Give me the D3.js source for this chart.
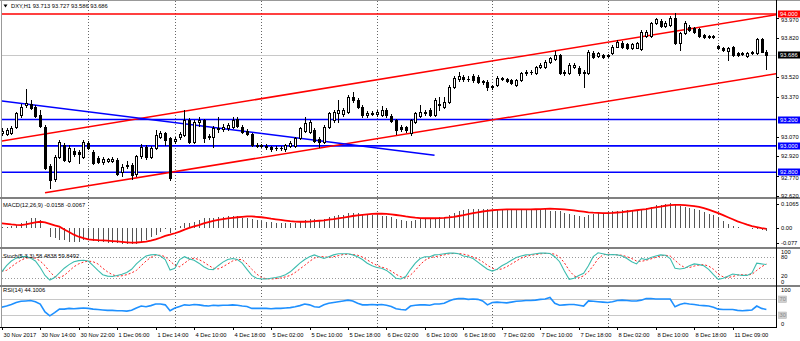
<!DOCTYPE html>
<html><head><meta charset="utf-8">
<script src="https://cdn.jsdelivr.net/npm/d3@7"></script>
<style>body{margin:0;background:#fff;overflow:hidden}svg{display:block;font-family:"Liberation Sans",Arial,sans-serif}</style>
</head><body><svg id="c" width="800" height="341"></svg>
<script>
// ---------- DATA ----------
const open = [93.098,93.090,93.098,93.143,93.234,93.310,93.318,93.295,93.234,93.143,
92.848,92.749,92.916,93.007,92.886,92.961,92.954,92.916,93.022,92.954,
92.908,92.878,92.886,92.886,92.893,92.802,92.855,92.855,92.787,92.923,
92.992,92.916,92.984,93.068,93.098,93.060,93.037,93.068,93.083,93.196,
93.030,93.181,93.196,93.075,93.068,93.128,93.128,93.136,93.143,93.204,
93.143,93.113,93.090,93.007,93.007,92.999,92.992,92.984,92.981,92.977,
92.999,92.999,93.060,93.113,93.105,93.121,93.052,93.030,93.143,93.196,
93.250,93.242,93.257,93.371,93.348,93.295,93.234,93.250,93.242,93.234,
93.272,93.227,93.196,93.143,93.143,93.098,93.181,93.227,93.250,93.272,
93.234,93.310,93.295,93.333,93.447,93.507,93.523,93.507,93.530,93.523,
93.490,93.485,93.454,93.462,93.511,93.507,93.500,93.462,93.500,93.553,
93.560,93.553,93.598,93.598,93.636,93.659,93.689,93.560,93.553,93.598,
93.591,93.560,93.553,93.705,93.682,93.689,93.682,93.705,93.750,93.780,
93.773,93.742,93.742,93.735,93.833,93.833,93.932,93.947,93.909,93.917,
93.970,93.780,93.856,93.902,93.894,93.887,93.841,93.833,93.833,93.758,
93.742,93.720,93.750,93.705,93.701,93.682,93.705,93.705,93.811,93.713];
const high = [93.136,93.136,93.151,93.257,93.318,93.432,93.348,93.310,93.272,93.159,
92.863,92.931,93.045,93.022,93.007,92.984,92.969,93.045,93.037,92.969,
92.923,92.916,92.908,92.916,92.908,92.863,92.886,92.870,92.931,93.014,
93.007,92.999,93.121,93.113,93.105,93.068,93.068,93.105,93.272,93.212,
93.196,93.219,93.204,93.090,93.151,93.219,93.166,93.174,93.219,93.219,
93.159,93.128,93.098,93.022,93.014,93.014,92.999,92.999,92.999,93.014,
93.037,93.068,93.143,93.219,93.196,93.136,93.068,93.159,93.257,93.272,
93.348,93.287,93.386,93.409,93.363,93.310,93.265,93.265,93.272,93.303,
93.287,93.242,93.204,93.159,93.151,93.204,93.257,93.310,93.272,93.287,
93.363,93.371,93.371,93.462,93.530,93.560,93.538,93.530,93.545,93.538,
93.500,93.500,93.462,93.530,93.523,93.515,93.507,93.507,93.560,93.576,
93.576,93.606,93.629,93.651,93.674,93.720,93.697,93.576,93.629,93.629,
93.606,93.576,93.727,93.720,93.712,93.697,93.697,93.765,93.803,93.796,
93.780,93.780,93.788,93.879,93.879,93.940,93.970,93.962,93.947,93.985,
94.008,93.864,93.947,93.917,93.902,93.894,93.849,93.841,93.841,93.765,
93.750,93.750,93.758,93.712,93.712,93.712,93.720,93.818,93.818,93.727];
const low = [93.083,93.083,93.090,93.136,93.219,93.295,93.280,93.219,93.143,92.825,
92.681,92.734,92.908,92.886,92.878,92.923,92.870,92.908,92.977,92.863,
92.870,92.863,92.878,92.878,92.779,92.772,92.832,92.749,92.772,92.908,
92.901,92.908,92.977,93.060,93.007,92.741,93.022,93.052,93.075,93.022,
93.022,93.151,93.030,93.052,92.992,93.105,93.113,93.121,93.136,93.143,
93.098,93.083,92.999,92.992,92.992,92.977,92.961,92.969,92.969,92.961,
92.992,92.992,93.052,93.105,93.098,93.030,92.992,93.022,93.136,93.181,
93.181,93.227,93.250,93.333,93.287,93.219,93.219,93.234,93.227,93.227,
93.219,93.181,93.090,93.113,93.105,93.083,93.174,93.219,93.234,93.227,
93.227,93.272,93.287,93.325,93.439,93.492,93.492,93.492,93.485,93.477,
93.469,93.424,93.432,93.454,93.500,93.485,93.469,93.454,93.492,93.538,
93.545,93.545,93.591,93.591,93.629,93.651,93.545,93.538,93.545,93.591,
93.538,93.447,93.545,93.667,93.674,93.667,93.674,93.697,93.750,93.742,
93.735,93.735,93.742,93.727,93.826,93.826,93.925,93.902,93.902,93.909,
93.773,93.727,93.849,93.871,93.856,93.826,93.818,93.818,93.818,93.735,
93.720,93.651,93.682,93.682,93.689,93.674,93.697,93.697,93.712,93.586];
const close = [93.113,93.121,93.136,93.250,93.295,93.325,93.287,93.227,93.151,92.832,
92.741,92.916,93.030,92.893,92.984,92.939,92.939,93.030,92.984,92.870,
92.878,92.901,92.901,92.901,92.787,92.840,92.851,92.779,92.923,92.992,
92.916,92.984,93.083,93.098,93.045,92.757,93.052,93.090,93.196,93.030,
93.181,93.196,93.060,93.068,93.136,93.136,93.143,93.159,93.196,93.151,
93.105,93.090,93.007,93.003,92.999,92.992,92.977,92.981,92.984,93.007,
93.022,93.060,93.136,93.174,93.181,93.037,93.030,93.143,93.250,93.257,
93.272,93.272,93.371,93.348,93.295,93.234,93.250,93.242,93.257,93.272,
93.234,93.189,93.121,93.128,93.121,93.196,93.250,93.257,93.257,93.234,
93.348,93.318,93.333,93.447,93.515,93.530,93.507,93.504,93.500,93.485,
93.485,93.447,93.447,93.515,93.515,93.492,93.477,93.500,93.553,93.560,
93.564,93.598,93.614,93.636,93.667,93.689,93.553,93.553,93.614,93.614,
93.553,93.553,93.712,93.674,93.705,93.674,93.689,93.750,93.788,93.750,
93.742,93.773,93.780,93.864,93.864,93.932,93.962,93.909,93.932,93.970,
93.780,93.856,93.932,93.879,93.864,93.833,93.826,93.826,93.826,93.742,
93.727,93.742,93.689,93.689,93.697,93.705,93.712,93.811,93.712,93.686];

const macdMain = [0.002,0.003,0.005,0.012,0.02,0.033,0.045,0.045,0.036,0.0,
-0.045,-0.05,-0.061,-0.063,-0.069,-0.069,-0.069,-0.063,-0.06,-0.064,
-0.069,-0.072,-0.074,-0.074,-0.074,-0.078,-0.078,-0.08,-0.078,-0.069,
-0.06,-0.045,-0.035,-0.02,-0.008,-0.026,-0.008,0.008,0.02,0.023,
0.028,0.038,0.045,0.048,0.048,0.052,0.052,0.056,0.056,0.056,
0.048,0.045,0.04,0.035,0.03,0.028,0.025,0.022,0.02,0.02,
0.02,0.022,0.028,0.035,0.04,0.04,0.038,0.042,0.05,0.055,
0.06,0.063,0.07,0.072,0.072,0.068,0.065,0.062,0.06,0.058,
0.055,0.05,0.042,0.035,0.03,0.032,0.036,0.04,0.042,0.042,
0.048,0.05,0.053,0.062,0.072,0.08,0.085,0.088,0.09,0.09,
0.09,0.088,0.085,0.086,0.087,0.087,0.086,0.085,0.086,0.087,
0.087,0.088,0.088,0.089,0.08,0.082,0.078,0.072,0.066,0.062,
0.058,0.05,0.06,0.066,0.07,0.072,0.074,0.078,0.082,0.084,
0.085,0.086,0.087,0.092,0.096,0.1,0.108,0.112,0.115,0.118,
0.11,0.104,0.1,0.095,0.09,0.083,0.076,0.068,0.06,0.05,
0.03,0.015,0.008,0.004,0.0,-0.003,-0.006,-0.008,-0.012,-0.0158];
const macdSignal = [0.02,0.018,0.015,0.013,0.012,0.015,0.02,0.025,0.028,0.025,
0.018,0.01,0.004,-0.01,-0.022,-0.035,-0.045,-0.052,-0.058,-0.06,
-0.062,-0.063,-0.064,-0.066,-0.068,-0.07,-0.072,-0.074,-0.073,-0.071,
-0.069,-0.064,-0.058,-0.05,-0.041,-0.035,-0.028,-0.02,-0.01,-0.002,
0.005,0.012,0.02,0.026,0.032,0.037,0.041,0.044,0.047,0.05,
0.052,0.054,0.054,0.052,0.05,0.047,0.043,0.04,0.037,0.034,
0.031,0.029,0.028,0.028,0.029,0.031,0.033,0.035,0.038,0.041,
0.045,0.048,0.052,0.056,0.059,0.062,0.064,0.066,0.067,0.067,
0.066,0.064,0.061,0.058,0.054,0.051,0.048,0.046,0.045,0.045,
0.045,0.046,0.047,0.049,0.052,0.056,0.06,0.065,0.07,0.074,
0.078,0.081,0.084,0.086,0.087,0.088,0.088,0.088,0.088,0.088,
0.088,0.089,0.09,0.091,0.092,0.091,0.09,0.088,0.086,0.083,
0.08,0.077,0.074,0.072,0.071,0.07,0.07,0.071,0.073,0.075,
0.078,0.081,0.084,0.087,0.09,0.094,0.098,0.102,0.106,0.109,
0.11,0.11,0.109,0.107,0.104,0.1,0.094,0.087,0.079,0.07,
0.06,0.05,0.04,0.03,0.022,0.014,0.007,0.002,-0.003,-0.0067];
const stochK = [38,55,68,76,80,81,76,68,50,28,
15,22,35,48,58,66,69,70,68,55,
42,30,26,25,28,31,36,45,60,72,
82,85,86,82,72,43,48,72,80,74,
70,62,52,45,44,55,65,72,75,72,
62,45,28,20,18,18,20,22,25,30,
38,50,62,72,80,85,80,75,80,85,
88,88,88,85,80,72,62,55,50,48,
42,32,20,18,25,45,62,75,80,80,
85,86,88,90,90,88,82,80,75,65,
55,45,40,45,55,62,70,78,82,85,
86,88,90,90,89,80,66,40,17,20,
28,34,55,80,91,88,85,86,85,82,
75,66,60,75,72,78,82,85,84,75,
48,46,48,55,60,58,55,45,30,17,
20,26,32,30,28,28,35,62,60,58.48];
const stochD = [40,42,52,62,70,76,78,76,68,55,
38,25,22,28,40,52,60,65,68,66,
60,48,38,30,26,27,30,35,42,55,
68,78,84,84,80,68,56,52,62,72,
76,72,65,56,48,46,52,60,68,72,
72,60,45,32,22,19,18,19,21,24,
28,36,46,56,67,76,80,80,78,80,
83,86,87,86,84,79,71,63,56,51,
47,40,31,24,21,29,42,58,70,77,
80,82,85,88,89,89,87,84,79,74,
66,56,48,44,46,52,60,68,76,81,
84,86,88,89,89,87,79,63,42,27,
21,27,38,55,74,85,87,86,85,84,
80,75,68,67,70,74,78,82,84,82,
70,58,50,50,54,57,58,54,45,32,
24,22,25,29,30,29,31,42,52,59.85];
const rsi = [50,53,57,62,65,66,67,64,58,38,
28,36,45,45,47,46,47,48,47,45,
44,43,42,42,41,41,40,42,48,53,
51,54,58,58,56,41,48,52,56,55,
57,56,54,53,55,54,55,55,56,55,
53,52,47,47,47,47,46,47,47,48,
49,51,54,58,56,51,50,56,60,62,
64,66,68,66,60,56,56,57,56,57,
55,52,46,44,43,53,55,56,56,55,
58,58,60,66,70,72,72,70,71,70,
66,56,62,63,62,61,63,65,66,67,
67,68,70,71,75,60,55,56,57,57,
55,53,66,65,64,63,62,64,67,68,
67,66,66,68,72,72,71,71,71,71,
51,57,60,58,57,55,54,53,50,45,
44,44,44,42,41,42,43,53,47,44.1];

const timeLabels = ["30 Nov 2017","30 Nov 14:00","30 Nov 22:00","1 Dec 06:00","1 Dec 14:00","4 Dec 10:00","4 Dec 18:00","5 Dec 02:00","5 Dec 10:00","5 Dec 18:00","6 Dec 02:00","6 Dec 10:00","6 Dec 18:00","7 Dec 02:00","7 Dec 10:00","7 Dec 18:00","8 Dec 02:00","8 Dec 10:00","8 Dec 18:00","11 Dec 09:00"];
const timeLabelBars = [0,8,16,24,32,40,48,56,64,72,80,88,96,104,112,120,128,136,144,152];
const gridBars = [18,36,54,78,102,126,149];
const priceTicks = [93.970,93.820,93.520,93.370,93.070,92.920,92.770,92.620];
const hLevelsBlue = [93.200,93.000,92.800];
const hLevelsRed = [94.000];
const bidPrice = 93.686;
const upperChannel = [[0,93.037],[161.2,93.996]];
const lowerChannel = [[9,92.645],[161.2,93.548]];
const blueTrend = [[0,93.341],[90,92.929]];
const macdTicks = [0.1065,0.00,-0.077];
const stochTicks = [100,80,20,0];
const stochLevels = [80,20];
const rsiLevels = [70,30];

// ---------- LAYOUT ----------
const svg = d3.select('#c');
const PR = 776;
const P = {main:[1,197], macd:[199,247], stoch:[249,285], rsi:[287,327]};
const x = d3.scaleLinear().domain([0,159]).range([1.74, 1.74+4.809*159]);
const yM = d3.scaleLinear().domain([92.620,93.970]).range([196,18]);
const yMacd = d3.scaleLinear().domain([-0.077,0]).range([243.3,227.5]);
const yS = d3.scaleLinear().domain([0,100]).range([285.5,249.5]);
const yR = d3.scaleLinear().domain([0,100]).range([326.8,287.6]);
const FS = 5.75;
const px = i => Math.round(x(i)) + 0.5;

const defs = svg.append('defs');
Object.entries(P).forEach(([k,[t,b]]) => {
  defs.append('clipPath').attr('id','clip-'+k).append('rect').attr('x',2).attr('y',t).attr('width',PR-2).attr('height',b-t);
});

Object.entries(P).forEach(([k,[t,b]]) => {
  svg.append('g').selectAll('line').data(gridBars).join('line')
    .attr('x1',d=>px(d)).attr('x2',d=>px(d)).attr('y1',t).attr('y2',b)
    .attr('stroke','#666').attr('stroke-width',1).attr('stroke-dasharray','1,2');
});

// ---------- MAIN ----------
const gm = svg.append('g').attr('clip-path','url(#clip-main)');
gm.append('line').attr('x1',2).attr('x2',PR).attr('y1',Math.round(yM(bidPrice))+0.5).attr('y2',Math.round(yM(bidPrice))+0.5).attr('stroke','#c8c8c8');
gm.selectAll('.hb').data(hLevelsBlue).join('line').attr('x1',2).attr('x2',PR)
  .attr('y1',d=>yM(d)).attr('y2',d=>yM(d)).attr('stroke','#0000ff').attr('stroke-width',1.6);
gm.selectAll('.hr').data(hLevelsRed).join('line').attr('x1',2).attr('x2',PR)
  .attr('y1',d=>yM(d)).attr('y2',d=>yM(d)).attr('stroke','#ff0000').attr('stroke-width',1.6);
const seg = (pts,col) => gm.append('line').attr('x1',x(pts[0][0])).attr('y1',yM(pts[0][1]))
  .attr('x2',x(pts[1][0])).attr('y2',yM(pts[1][1])).attr('stroke',col).attr('stroke-width',1.5);
seg(upperChannel,'#ff0000'); seg(lowerChannel,'#ff0000'); seg(blueTrend,'#0000ff');

const idx = d3.range(open.length);
const cg = gm.append('g').attr('shape-rendering','crispEdges');
idx.forEach(i => {
  const cx = px(i);
  cg.append('line').attr('x1',cx).attr('x2',cx).attr('y1',Math.round(yM(high[i]))).attr('y2',Math.round(yM(low[i]))+1).attr('stroke','#000');
  const top = Math.round(yM(Math.max(open[i],close[i]))), bot = Math.round(yM(Math.min(open[i],close[i])));
  const bull = close[i] >= open[i];
  if (bot - top < 1) {
    cg.append('line').attr('x1',cx-1.5).attr('x2',cx+1.5).attr('y1',top+0.5).attr('y2',top+0.5).attr('stroke','#000');
  } else {
    cg.append('rect').attr('x',cx-1).attr('y',top+0.5).attr('width',2).attr('height',bot-top)
      .attr('fill',bull?'#fff':'#000').attr('stroke','#000').attr('stroke-width',1);
  }
});
svg.append('text').attr('x',11).attr('y',8).attr('font-size',FS).attr('fill','#000')
  .text('DXY,H1  93.713 93.727 93.586 93.686');
svg.append('path').attr('d','M3.5,4.5 L7.5,4.5 L5.5,7.5 Z').attr('fill','#000');

// ---------- MACD ----------
const gmac = svg.append('g').attr('clip-path','url(#clip-macd)');
gmac.append('g').attr('shape-rendering','crispEdges').selectAll('line').data(idx).join('line')
  .attr('x1',i=>px(i)).attr('x2',i=>px(i)).attr('y1',yMacd(0)).attr('y2',i=>yMacd(macdMain[i]))
  .attr('stroke','#555').attr('stroke-width',1);
gmac.append('path').datum(idx).attr('fill','none').attr('stroke','#ff0000').attr('stroke-width',1.8)
  .attr('d',d3.line().x(i=>x(i)).y(i=>yMacd(macdSignal[i])));
svg.append('text').attr('x',3).attr('y',207).attr('font-size',FS).text('MACD(12,26,9) -0.0158 -0.0067');

// ---------- STOCH ----------
const gs = svg.append('g').attr('clip-path','url(#clip-stoch)');
gs.selectAll('.lv').data(stochLevels).join('line').attr('x1',2).attr('x2',PR)
  .attr('y1',d=>Math.round(yS(d))+0.5).attr('y2',d=>Math.round(yS(d))+0.5)
  .attr('stroke','#999').attr('stroke-dasharray','1,2');
gs.append('path').datum(idx).attr('fill','none').attr('stroke','#ff2020').attr('stroke-width',1).attr('stroke-dasharray','2,2')
  .attr('d',d3.line().x(i=>x(i)).y(i=>yS(stochD[i])));
gs.append('path').datum(idx).attr('fill','none').attr('stroke','#3cbcae').attr('stroke-width',1.1)
  .attr('d',d3.line().x(i=>x(i)).y(i=>yS(stochK[i])));
svg.append('text').attr('x',3).attr('y',258).attr('font-size',FS).text('Stoch(5,3,3) 58.4838 59.8492');

// ---------- RSI ----------
const gr = svg.append('g').attr('clip-path','url(#clip-rsi)');
gr.selectAll('.lv').data(rsiLevels).join('line').attr('x1',2).attr('x2',PR)
  .attr('y1',d=>Math.round(yR(d))+0.5).attr('y2',d=>Math.round(yR(d))+0.5).attr('stroke','#c8c8c8');
gr.append('path').datum(idx).attr('fill','none').attr('stroke','#1e90ff').attr('stroke-width',1.6)
  .attr('d',d3.line().x(i=>x(i)).y(i=>yR(rsi[i])));
svg.append('text').attr('x',3).attr('y',292).attr('font-size',FS).text('RSI(14) 44.1006');

// ---------- FRAMES ----------
const fr = svg.append('g').attr('shape-rendering','crispEdges');
fr.append('line').attr('x1',0).attr('x2',800).attr('y1',0.5).attr('y2',0.5).attr('stroke','#999');
fr.append('line').attr('x1',1.5).attr('x2',1.5).attr('y1',0).attr('y2',327).attr('stroke','#999');
[197,247,285].forEach(y => fr.append('rect').attr('x',0).attr('y',y).attr('width',800).attr('height',2).attr('fill','#808080'));
fr.append('line').attr('x1',0).attr('x2',PR+1).attr('y1',327.5).attr('y2',327.5).attr('stroke','#000');
fr.append('line').attr('x1',PR+0.5).attr('x2',PR+0.5).attr('y1',0).attr('y2',328).attr('stroke','#000');

// ---------- AXES ----------
const ax = svg.append('g').attr('font-size',FS).attr('fill','#000');
const axisLabel = (y,t,dy) => {
  ax.append('line').attr('x1',PR).attr('x2',PR+3).attr('y1',Math.round(y)+0.5).attr('y2',Math.round(y)+0.5).attr('stroke','#000').attr('shape-rendering','crispEdges');
  ax.append('text').attr('x',781).attr('y',y+(dy||0)).attr('dy','0.35em').text(t);
};
priceTicks.forEach(p => {
  const shift = p===93.970 ? 1.5 : (p===92.770 ? 1.5 : 0);
  axisLabel(yM(p), p.toFixed(3), shift);
});
const box = (y,t,bg,fg) => {
  ax.append('rect').attr('x',778).attr('y',Math.round(y)-3.5).attr('width',22).attr('height',7).attr('fill',bg);
  ax.append('text').attr('x',780).attr('y',y).attr('dy','0.35em').attr('fill',fg).text(t);
};
hLevelsRed.forEach(p => box(yM(p), p.toFixed(3), '#ff0000', '#fff'));
hLevelsBlue.forEach(p => box(yM(p), p.toFixed(3), '#0000ff', '#fff'));
box(yM(bidPrice), bidPrice.toFixed(3), '#000', '#fff');

const macdY = [204, yMacd(0), yMacd(-0.077)];
macdTicks.forEach((v,k) => axisLabel(macdY[k], v===0?'0.00':String(v)));
const stY = [252, 256.5, 276.3, 282];
stochTicks.forEach((v,k) => ax.append('text').attr('x',781).attr('y',stY[k]).attr('dy','0.35em').text(v));
ax.append('text').attr('x',781).attr('y',289.5).attr('dy','0.35em').text('100');
ax.append('text').attr('x',781).attr('y',323.5).attr('dy','0.35em').text('0');
rsiLevels.forEach(v => {
  ax.append('rect').attr('x',778.5).attr('y',Math.round(yR(v))-3).attr('width',8).attr('height',6.5).attr('fill','#d0d0d0').attr('stroke','#b0b0b0').attr('stroke-width',0.5);
  ax.append('text').attr('x',779.5).attr('y',yR(v)).attr('dy','0.35em').attr('fill','#888').text(v);
});

timeLabelBars.forEach((b,k) => {
  const xx = px(b);
  ax.append('line').attr('x1',xx).attr('x2',xx).attr('y1',327).attr('y2',330).attr('stroke','#000').attr('shape-rendering','crispEdges');
  ax.append('text').attr('x',xx+1).attr('y',336.5).text(timeLabels[k]);
});
</script></body></html>
